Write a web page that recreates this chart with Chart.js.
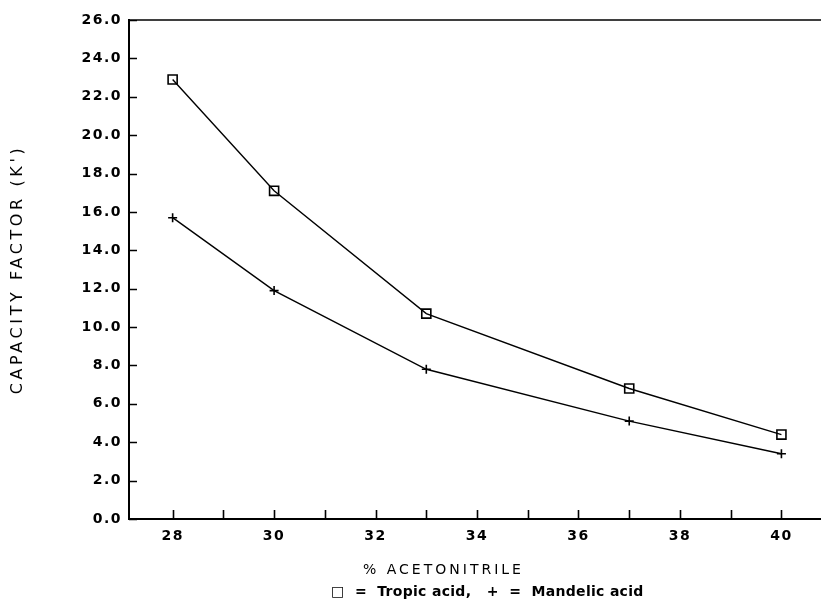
<!DOCTYPE html>
<html>
<head>
<meta charset="utf-8">
<script src="https://cdn.jsdelivr.net/npm/chart.js@4.4.0/dist/chart.umd.min.js"></script>
<style>
  html, body { margin: 0; padding: 0; background: #fff; }
  #wrap { width: 821px; height: 602px; }
</style>
</head>
<body>
<div id="wrap"><canvas id="kChart" width="821" height="602"></canvas></div>
<script>
// --- dati ---
const acetonitrile = [28, 30, 33, 37, 40];
const tropicAcid = [22.9, 17.1, 10.7, 6.8, 4.4];
const mandelicAcid = [15.7, 11.9, 7.8, 5.1, 3.4];

const xTickLabels = ['28', '30', '32', '34', '36', '38', '40'];
const yTickLabels = ['0.0', '2.0', '4.0', '6.0', '8.0', '10.0', '12.0',
                     '14.0', '16.0', '18.0', '20.0', '22.0', '24.0', '26.0'];

const xTitle = '% ACETONITRILE';
const yTitle = "CAPACITY FACTOR (K')";
const legendText = '\u25A1  =  Tropic acid,   +  =  Mandelic acid';

const TICK_FONT = { family: 'DejaVu Sans', size: 14, weight: 'bold' };

// tacche verso l'interno, bordo superiore e testi
const extras = {
  id: 'extras',
  beforeDraw(chart) {
    chart.ctx.letterSpacing = '1.5px';
  },
  afterDraw(chart) {
    const ctx = chart.ctx;
    const { x, y } = chart.scales;
    const area = chart.chartArea;
    ctx.save();
    ctx.letterSpacing = '0px';
    ctx.strokeStyle = '#000';
    ctx.lineWidth = 1.6;
    ctx.beginPath();
    y.ticks.forEach(t => {
      const py = Math.round(y.getPixelForValue(t.value)) + 0.5;
      ctx.moveTo(area.left, py);
      ctx.lineTo(area.left + 8, py);
    });
    x.ticks.forEach(t => {
      const px = Math.round(x.getPixelForValue(t.value)) + 0.5;
      ctx.moveTo(px, area.bottom);
      ctx.lineTo(px, area.bottom - 9);
    });
    ctx.moveTo(area.left, area.top);
    ctx.lineTo(area.right, area.top);
    ctx.stroke();

    ctx.fillStyle = '#000';
    ctx.textBaseline = 'middle';

    // titolo asse Y
    ctx.save();
    ctx.font = '16px "DejaVu Sans"';
    ctx.letterSpacing = '3.6px';
    ctx.textAlign = 'center';
    ctx.translate(17.5, (area.top + area.bottom) / 2);
    ctx.rotate(-Math.PI / 2);
    ctx.fillText(yTitle, 0, 0);
    ctx.restore();

    // titolo asse X
    ctx.font = '14px "DejaVu Sans"';
    ctx.letterSpacing = '3px';
    ctx.textAlign = 'left';
    ctx.fillText(xTitle, 363, 570);

    // legenda
    ctx.font = 'bold 14px "DejaVu Sans"';
    ctx.letterSpacing = '0.3px';
    ctx.fillText(legendText, 331, 592);
    ctx.restore();
  }
};

new Chart(document.getElementById('kChart'), {
  type: 'line',
  data: {
    datasets: [
      {
        label: 'Tropic acid',
        data: acetonitrile.map((v, i) => ({ x: v, y: tropicAcid[i] })),
        borderColor: '#000',
        borderWidth: 1.4,
        pointStyle: 'rect',
        pointRadius: 6.4,
        pointBorderWidth: 1.6,
        pointBorderColor: '#000',
        pointBackgroundColor: 'rgba(0,0,0,0)',
        tension: 0
      },
      {
        label: 'Mandelic acid',
        data: acetonitrile.map((v, i) => ({ x: v, y: mandelicAcid[i] })),
        borderColor: '#000',
        borderWidth: 1.4,
        pointStyle: 'cross',
        pointRadius: 4.5,
        pointBorderWidth: 1.6,
        pointBorderColor: '#000',
        tension: 0
      }
    ]
  },
  options: {
    responsive: false,
    animation: false,
    layout: { autoPadding: false, padding: { top: 20, right: 0, left: 0, bottom: 0 } },
    plugins: {
      legend: { display: false },
      tooltip: { enabled: false }
    },
    scales: {
      x: {
        type: 'linear',
        min: 27.14,
        max: 40.78,
        afterFit: s => {
          s.height = 83;
          s.paddingLeft = 0;
          s.paddingRight = 0;
        },
        grid: { display: false, drawTicks: false },
        border: { display: true, color: '#000', width: 2 },
        ticks: {
          stepSize: 1,
          includeBounds: false,
          autoSkip: false,
          maxRotation: 0,
          padding: 9,
          color: '#000',
          font: TICK_FONT,
          callback: v => xTickLabels.includes(String(v)) ? String(v) : ''
        }
      },
      y: {
        min: 0,
        max: 26,
        afterFit: s => {
          s.width = 129;
          s.paddingTop = 0;
          s.paddingBottom = 0;
        },
        grid: { display: false, drawTicks: false },
        border: { display: true, color: '#000', width: 2 },
        ticks: {
          stepSize: 2,
          padding: 7,
          color: '#000',
          font: TICK_FONT,
          callback: v => yTickLabels[Math.round(v / 2)]
        }
      }
    }
  },
  plugins: [extras]
});
</script>
</body>
</html>
